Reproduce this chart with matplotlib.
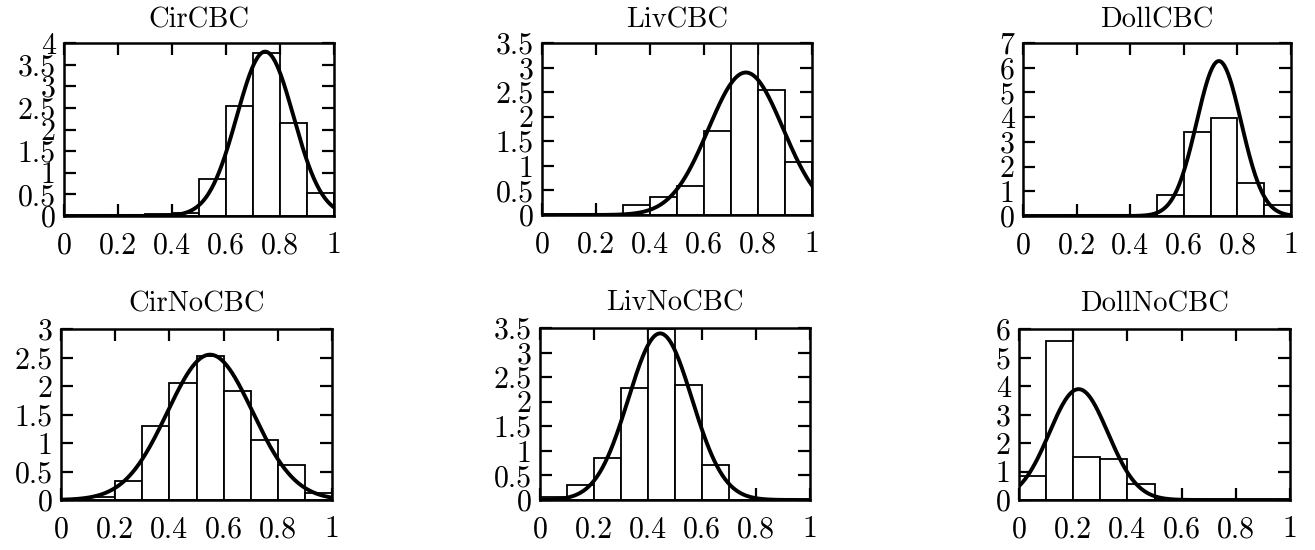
import numpy as np
from matplotlib import pyplot as plt
from matplotlib.ticker import FormatStrFormatter, MultipleLocator

plt.rcParams['font.family'] = 'cmr10'
plt.rcParams['axes.unicode_minus'] = False
plt.rcParams['axes.formatter.use_mathtext'] = True

bin_edges = [0.0, 0.1, 0.2, 0.3, 0.4, 0.5, 0.6, 0.7, 0.8, 0.9, 1.0]

titles = ['CirCBC', 'LivCBC', 'DollCBC', 'CirNoCBC', 'LivNoCBC', 'DollNoCBC']

# histogram densities, one value per 0.1 bin
cir_cbc = [0, 0, 0, 0.04, 0.08, 0.85, 2.55, 3.77, 2.15, 0.54]
liv_cbc = [0, 0, 0.02, 0.2, 0.37, 0.6, 1.71, 3.6, 2.54, 1.08]
doll_cbc = [0, 0, 0, 0, 0, 0.85, 3.4, 3.95, 1.32, 0.45]
cir_nocbc = [0.01, 0.05, 0.34, 1.29, 2.06, 2.52, 1.91, 1.06, 0.61, 0.12]
liv_nocbc = [0.07, 0.31, 0.85, 2.28, 3.47, 2.33, 0.71, 0.01, 0, 0]
doll_nocbc = [0.85, 5.59, 1.52, 1.44, 0.56, 0.05, 0, 0, 0, 0]
histos = [cir_cbc, liv_cbc, doll_cbc, cir_nocbc, liv_nocbc, doll_nocbc]

# fitted gaussian curves: peak height, mean, sigma
fit_peak = [3.8, 2.9, 6.27, 2.55, 3.39, 3.89]
fit_mean = [0.745, 0.755, 0.731, 0.55, 0.445, 0.22]
fit_sigma = [0.105, 0.138, 0.083, 0.157, 0.118, 0.108]

y_max = [4, 3.5, 7, 3, 3.5, 6]
y_step = [0.5, 0.5, 1, 0.5, 0.5, 1]

positions = [
	[64/1315, 1-216/550, 270/1315, 173/550],
	[542/1315, 1-215/550, 270/1315, 172/550],
	[1023/1315, 1-216/550, 268/1315, 173/550],
	[61/1315, 1-500/550, 271/1315, 171/550],
	[540/1315, 1-500/550, 270/1315, 172/550],
	[1019/1315, 1-500/550, 271/1315, 171/550],
]

fig = plt.figure(figsize=(13.15, 5.5), dpi=100)

for i in range(6) :
	ax = fig.add_axes(positions[i])
	ax.bar(bin_edges[:-1], histos[i], width=0.1, align='edge', color='white',
		edgecolor='black', linewidth=1.3, zorder=2)
	xs = np.linspace(0, 1, 300)
	ys = fit_peak[i] * np.exp(-(xs - fit_mean[i])**2 / (2 * fit_sigma[i]**2))
	ax.plot(xs, ys, color='black', linewidth=2.8, zorder=3)
	ax.set_xlim(0, 1)
	ax.set_ylim(0, y_max[i])
	ax.xaxis.set_major_locator(MultipleLocator(0.2))
	ax.yaxis.set_major_locator(MultipleLocator(y_step[i]))
	ax.xaxis.set_major_formatter(FormatStrFormatter('%g'))
	ax.yaxis.set_major_formatter(FormatStrFormatter('%g'))
	ax.tick_params(axis='both', direction='in', top=True, right=True, length=8.5,
		width=1.6, labelsize=21.5)
	ax.tick_params(axis='x', pad=11.5)
	ax.tick_params(axis='y', pad=6)
	for s in ax.spines.values() :
		s.set_linewidth(1.8)
		s.set_zorder(4)
	if i < 3 :
		ax.set_title(titles[i], fontsize=20.5, pad=11)
	else :
		ax.set_title(titles[i], fontsize=20.5, pad=12.5)

plt.savefig('out.png', dpi=100)
